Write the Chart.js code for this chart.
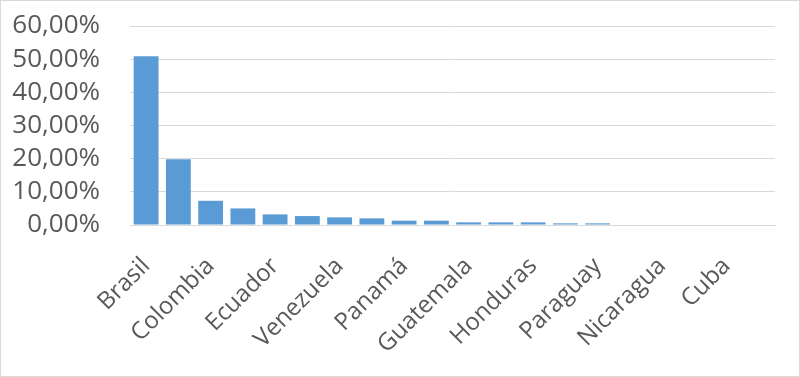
<!DOCTYPE html>
<html>
<head>
<meta charset="utf-8">
<script src="https://cdn.jsdelivr.net/npm/chart.js@4"></script>
<style>
  body { margin: 0; background: #fff; }
  #box { width: 800px; height: 377px; box-sizing: border-box; border: 1px solid #d9d9d9; position: relative; }
</style>
</head>
<body>
<div id="box"><canvas id="chart"></canvas></div>
<script>
const countries = [
    "Brasil", "México", "Colombia", "Argentina", "Ecuador", "Perú", "Venezuela", "Chile",
    "Panamá", "Costa Rica", "Guatemala", "Bolivia", "Honduras", "República Dominicana",
    "Paraguay", "El Salvador", "Nicaragua", "Uruguay", "Cuba", "Haití"
];
const shares = [
    50.9, 19.8, 7.3, 5.0, 3.2, 2.7, 2.3, 2.0,
    1.3, 1.3, 0.8, 0.8, 0.8, 0.5,
    0.5, 0, 0, 0, 0, 0
];
const yTicks = [0, 10, 20, 30, 40, 50, 60];

const yFont = { family: "'Open Sans', sans-serif", size: 26 };
const xFont = { family: "'Open Sans', sans-serif", size: 24 };
const textColor = "#595959";
const gridColor = "#d9d9d9";

const ctx = document.getElementById("chart").getContext("2d");
new Chart(ctx, {
    type: "bar",
    data: {
        labels: countries,
        datasets: [{
            data: shares,
            backgroundColor: "#5b9bd5",
            barPercentage: 0.77,
            categoryPercentage: 1.0
        }]
    },
    options: {
        responsive: true,
        maintainAspectRatio: false,
        animation: false,
        layout: { padding: { left: 0, top: 25, right: 24, bottom: 0 } },
        plugins: { legend: { display: false }, tooltip: { enabled: false } },
        scales: {
            x: {
                // hidden tick marks push the rotated labels down
                grid: { display: true, drawOnChartArea: false, drawTicks: true, tickLength: 21, tickColor: "rgba(0,0,0,0)" },
                border: { display: true, color: gridColor, width: 1 },
                ticks: {
                    autoSkip: false,
                    minRotation: 45,
                    maxRotation: 45,
                    padding: 6,
                    color: textColor,
                    font: xFont,
                    // only every other category gets a label, as in the original
                    callback: function(value, index) {
                        return index % 2 === 0 ? countries[index] : "";
                    }
                },
                afterFit: function(scale) { scale.height = 151; }
            },
            y: {
                min: 0,
                max: 60,
                afterBuildTicks: function(scale) {
                    scale.ticks = yTicks.map(v => ({ value: v }));
                },
                // invisible tick marks keep the labels away from the plot
                grid: { color: gridColor, drawTicks: true, tickLength: 30, tickColor: "rgba(0,0,0,0)" },
                border: { display: false },
                ticks: {
                    autoSkip: false,
                    padding: 0,
                    color: textColor,
                    font: yFont,
                    callback: function(value) {
                        return value.toFixed(2).replace(".", ",") + "%";
                    }
                },
                afterFit: function(scale) { scale.width = 129; }
            }
        }
    }
});
</script>
</body>
</html>
